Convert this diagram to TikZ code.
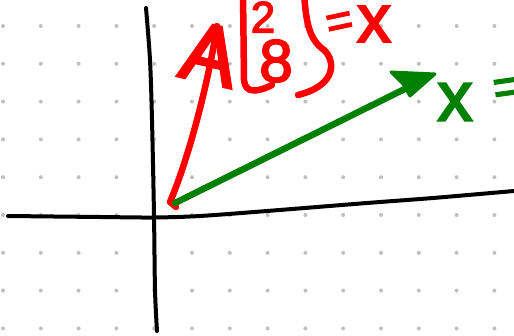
\documentclass[tikz,border=0pt]{standalone}
\usepackage{fontspec}
\setmainfont{Liberation Sans}
\newfontfamily\handfont[FakeBold=3]{Liberation Sans}
\definecolor{penred}{RGB}{255,0,0}
\definecolor{pengreen}{RGB}{0,128,0}
\definecolor{dotgray}{RGB}{192,192,192}
\tikzset{
  axisline/.style={line width=4pt, black, line cap=round, line join=round},
  redpen/.style={line width=6.5pt, penred, line cap=round, line join=round},
  greenpen/.style={line width=6.5pt, pengreen, line cap=round, line join=round},
  hand/.style={inner sep=0pt, outer sep=0pt},
}
\newcommand{\fsz}[1]{\handfont\fontsize{#1}{#1}\selectfont}
\begin{document}
\begin{tikzpicture}[x=1pt,y=-1pt]
\useasboundingbox (0,0) rectangle (514,336);
\fill[white] (0,0) rectangle (514,336);
% dot grid
\foreach \i in {0,...,13}
  \foreach \j in {0,...,8}
    \fill[dotgray] (3+37.8*\i, 26+37.8*\j) circle (2pt);
% axes
\draw[axisline] plot[smooth] coordinates {(146,8) (150,60) (152,120) (154,215) (155,290) (157,331)};
\draw[axisline] plot[smooth] coordinates {(8,216) (100,217) (154,217.5) (200,216) (267,211) (367,203) (433,198) (514,191)};
% red vector with A as its head
\coordinate (O) at (170,202);
\coordinate (Rtip) at (217,26);
\draw[redpen] (176,207) -- (O) .. controls (188,160) and (208,85) .. (Rtip);
\node[hand, text=penred, font=\fsz{84}, anchor=north, rotate=-13] (A) at (Rtip) {A};
% bracketed vector [2;8]
\draw[redpen] (243,-8) -- (244,80) .. controls (245,93) and (256,93) .. (272,85);
\draw[redpen] (304,-8) .. controls (306,25) and (310,40) .. (324,50) .. controls (335,60) and (338,85) .. (298,95);
\node[hand, text=penred, font=\fsz{44}] (two) at (263,17) {2};
\node[hand, text=penred, font=\fsz{60}] (eight) at (276,61) {8};
\node[hand, text=penred, font=\fsz{46}, rotate=12] (eqr) at (340,25) {=};
\node[hand, text=penred, font=\fsz{68}] (xr) at (374,24) {x};
% green vector
\coordinate (G0) at (175,203);
\coordinate (Gtip) at (435,74);
\draw[greenpen, shorten >=18pt] (G0) -- (Gtip);
\filldraw[pengreen, line width=3pt, line join=round] (Gtip) -- (391,72) -- (403,84) -- (410,96) -- cycle;
\node[hand, text=pengreen, font=\fsz{70}] (xg) at (455,102) {x};
\node[hand, text=pengreen, font=\fsz{50}, rotate=8] (eqg) at (508,91) {=};
\end{tikzpicture}
\end{document}
